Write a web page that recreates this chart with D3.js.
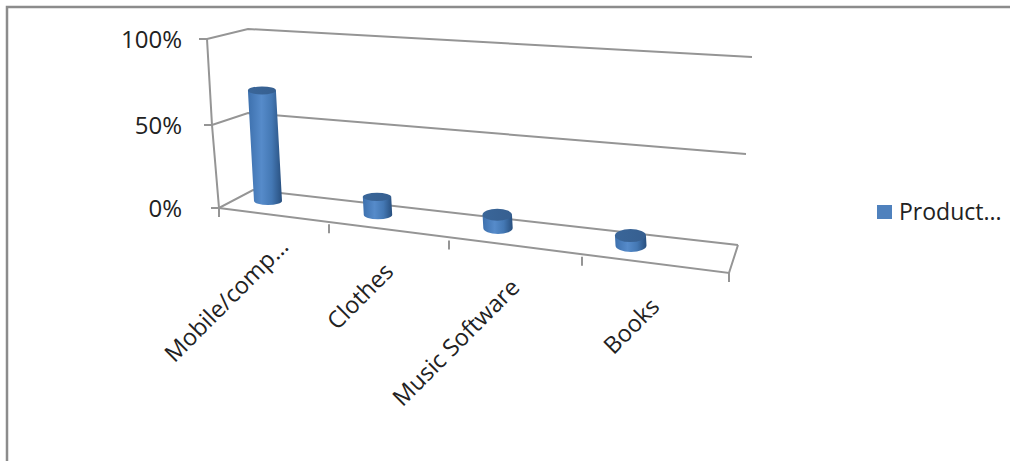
<!DOCTYPE html>
<html>
<head>
<meta charset="utf-8">
<script src="https://d3js.org/d3.v7.min.js"></script>
<style>
  html, body { margin: 0; padding: 0; background: #fff; }
  text { font-family: "Open Sans", "Noto Sans", sans-serif; fill: #222; }
</style>
</head>
<body>
<div class="plot"></div>
<script>
var categories = ["Mobile/comp...", "Clothes", "Music Software", "Books"];
var values = [67, 11, 8, 6];
var tickValues = [0, 50, 100];
var tickLabels = ["0%", "50%", "100%"];
var seriesName = "Product...";

var width = 1010, height = 461, lineColor = "#959595";

var svg = d3.select(".plot").append("svg")
    .attr("width", width)
    .attr("height", height)
    .style("display", "block");

// the fake 3d box: one scale per edge of the box
var idx = [0, 1, 2, 3, 4];
var frontX = d3.scaleLinear().domain(idx).range([219, 329, 449, 582, 729]);
var frontY = d3.scaleLinear().domain([0, 4]).range([208, 273]);

var wallLeftX = d3.scaleLinear().domain(tickValues).range([219, 212, 207]);
var wallLeftY = d3.scaleLinear().domain(tickValues).range([208, 125, 39]);
var backLeftX = d3.scaleLinear().domain(tickValues).range([253, 248, 248]);
var backLeftY = d3.scaleLinear().domain(tickValues).range([190, 113, 29]);
var backRightX = d3.scaleLinear().domain(tickValues).range([738, 746, 752]);
var backRightY = d3.scaleLinear().domain(tickValues).range([245, 154, 57]);

// cylinders
var barX = d3.scaleLinear().domain([0, 1, 2, 3]).range([268, 378, 498, 631]);
var barBase = d3.scaleLinear().domain([0, 1, 2, 3]).range([201, 215, 228, 245.5]);
var barRx = d3.scaleLinear().domain([0, 1, 2, 3]).range([14, 14.2, 14.7, 15.5]);
var barRy = d3.scaleLinear().domain([0, 1, 2, 3]).range([4, 4.2, 6, 6.5]);
var barH = d3.scaleLinear().domain([0, 100]).range([0, 165]);

var defs = svg.append("defs");
var side = defs.append("linearGradient").attr("id", "cylSide");
[["0%", "#3d70ad"], ["40%", "#568bca"], ["70%", "#4478b4"], ["100%", "#284f7e"]].forEach(function(s) {
  side.append("stop").attr("offset", s[0]).attr("stop-color", s[1]);
});
var topFill = defs.append("linearGradient").attr("id", "cylTop");
[["0%", "#3a6699"], ["100%", "#365f90"]].forEach(function(s) {
  topFill.append("stop").attr("offset", s[0]).attr("stop-color", s[1]);
});

// picture border
svg.append("path")
    .attr("d", "M7," + height + "V7H" + width)
    .attr("fill", "none")
    .attr("stroke", "#8c8c8c")
    .attr("stroke-width", 2.5);

var grid = svg.append("g")
    .attr("fill", "none")
    .attr("stroke", lineColor)
    .attr("stroke-width", 2);

// wall lines
grid.selectAll(".wall")
  .data(tickValues)
  .enter().append("path")
    .attr("class", "wall")
    .attr("d", function(d) {
      return d3.line()([
        [wallLeftX(d) - 8, wallLeftY(d)],
        [wallLeftX(d), wallLeftY(d)],
        [backLeftX(d), backLeftY(d)],
        [backRightX(d), backRightY(d)]
      ]);
    });

// left axis
grid.append("path")
    .attr("d", d3.line()(tickValues.map(function(d) { return [wallLeftX(d), wallLeftY(d)]; })));

// front edge + side edge of the floor
grid.append("path")
    .attr("d", d3.line()([
      [frontX(0), frontY(0)],
      [frontX(4), frontY(4)],
      [backRightX(0), backRightY(0)]
    ]));

grid.selectAll(".tick")
  .data(idx)
  .enter().append("line")
    .attr("class", "tick")
    .attr("x1", function(d) { return frontX(d); })
    .attr("x2", function(d) { return frontX(d); })
    .attr("y1", function(d) { return frontY(d); })
    .attr("y2", function(d) { return frontY(d) + 9; });

// y labels
svg.selectAll(".ylab")
  .data(tickValues)
  .enter().append("text")
    .attr("class", "ylab")
    .attr("x", 182)
    .attr("y", function(d) { return wallLeftY(d) + 9; })
    .attr("text-anchor", "end")
    .style("font-size", "24px")
    .text(function(d, i) { return tickLabels[i]; });

// category labels
var labelAnchor = [[290, 248], [395, 273], [521, 289], [661, 308]];
svg.selectAll(".xlab")
  .data(categories)
  .enter().append("text")
    .attr("class", "xlab")
    .attr("text-anchor", "end")
    .attr("transform", function(d, i) {
      return "translate(" + labelAnchor[i][0] + "," + labelAnchor[i][1] + ") rotate(-45)";
    })
    .style("font-size", "23.5px")
    .text(function(d) { return d; });

// cylinders
var bars = svg.selectAll(".bar")
  .data(values)
  .enter().append("g")
    .attr("class", "bar");

bars.append("path")
    .attr("fill", "url(#cylSide)")
    .attr("d", function(d, i) {
      var rx = barRx(i), ry = barRy(i), x0 = barX(i), y0 = barBase(i),
          h = barH(d), x1 = x0 - 0.055 * h, y1 = y0 - h;
      return "M" + (x1 - rx) + "," + y1 +
        "L" + (x0 - rx) + "," + y0 +
        "A" + rx + "," + ry + " 0 0 0 " + (x0 + rx) + "," + y0 +
        "L" + (x1 + rx) + "," + y1 + "Z";
    });

bars.append("ellipse")
    .attr("fill", "url(#cylTop)")
    .attr("cx", function(d, i) { return barX(i) - 0.055 * barH(d); })
    .attr("cy", function(d, i) { return barBase(i) - barH(d); })
    .attr("rx", function(d, i) { return barRx(i); })
    .attr("ry", function(d, i) { return barRy(i); });

// legend
svg.append("rect")
    .attr("x", 877)
    .attr("y", 205)
    .attr("width", 15)
    .attr("height", 14)
    .attr("fill", "#4f81bd");

svg.append("text")
    .attr("x", 899)
    .attr("y", 220)
    .style("font-size", "23px")
    .text(seriesName);
</script>
</body>
</html>
